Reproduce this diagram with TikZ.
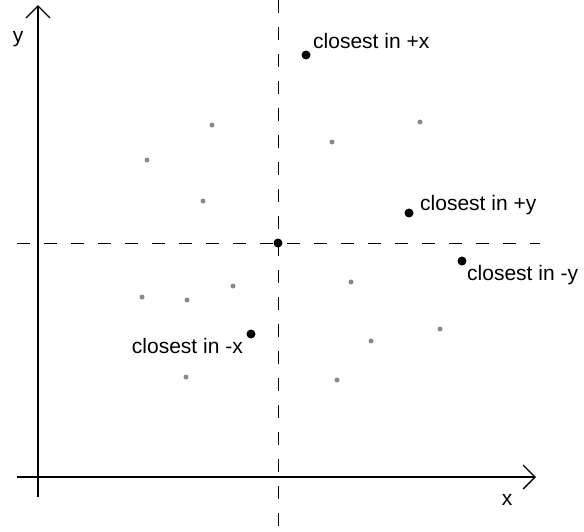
\documentclass[tikz,border=0pt]{standalone}
\usepackage{fontspec}
\setmainfont{Liberation Sans}
\usetikzlibrary{arrows.meta,positioning}
\definecolor{pale}{HTML}{8A8A8A}

\begin{document}
\begin{tikzpicture}[x=1pt,y=-1pt,
  every node/.style={font=\fontsize{21}{25}\selectfont,inner sep=0pt},
  axis/.style={line width=1.3pt,-{Straight Barb[length=12pt,width=24pt]}},
  guide/.style={line width=1pt,dash pattern=on 13pt off 14pt},
  pt/.style={circle,fill=pale,minimum size=5pt},
  hit/.style={circle,fill=black,minimum size=9pt}]
  \useasboundingbox (0,0) rectangle (584,531);
  % axes and guides
  \coordinate (yfoot) at (38,497);
  \coordinate (ytip) at (38,5);
  \coordinate (xfoot) at (17,477);
  \coordinate (xtip) at (536,477);
  \coordinate (vtop) at (278,0);
  \coordinate (vbot) at (278,531);
  \coordinate (hleft) at (17,243);
  \coordinate (hright) at (540,243);
  \draw[axis] (yfoot) -- (ytip);
  \draw[axis] (xfoot) -- (xtip);
  \draw[guide] (vtop) -- (vbot);
  \draw[guide] (hleft) -- (hright);
  \node[anchor=base] (ylab) at (18,42) {y};
  \node[anchor=base] (xlab) at (507,505) {x};
  % the other points
  \foreach \i/\px/\py in {1/212/125,2/147/160,3/203/201,4/332/142,5/420/122,
    6/142/297,7/187/300,8/233/286,9/351/282,10/440/329,11/371/341,
    12/186/377,13/337/380}
    \node[pt] (p\i) at (\px,\py) {};
  % origin and the closest ones
  \node[hit] (o) at (278,243) {};
  \node[hit] (px) at (306,55) {};
  \node[hit] (py) at (409,213) {};
  \node[hit] (my) at (462,261) {};
  \node[hit] (mx) at (251,334) {};
  \node[anchor=base west] (lpx) at (313,48) {closest in +x};
  \node[anchor=base west] (lpy) at (420,210) {closest in +y};
  \node[anchor=base west] (lmy) at (467,280) {closest in -y};
  \node[anchor=base east] (lmx) at (243,353) {closest in -x};
\end{tikzpicture}
\end{document}
